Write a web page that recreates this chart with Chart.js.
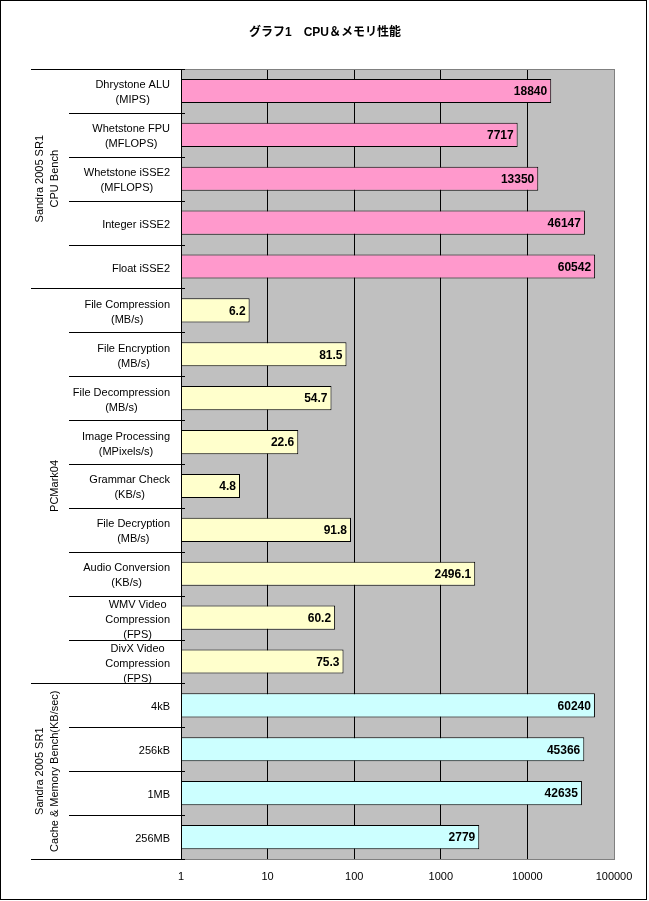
<!DOCTYPE html>
<html>
<head>
<meta charset="utf-8">
<script src="https://cdn.jsdelivr.net/npm/chart.js@4/dist/chart.umd.min.js"></script>
<style>
html,body{margin:0;padding:0;background:#fff;}
canvas{display:block;}
</style>
</head>
<body>
<canvas id="c" width="649" height="901"></canvas>
<script>
const chartTitle = "グラフ1　CPU＆メモリ性能";
const categories = [
  ["Dhrystone ALU","(MIPS)"],
  ["Whetstone FPU","(MFLOPS)"],
  ["Whetstone iSSE2","(MFLOPS)"],
  ["Integer iSSE2"],
  ["Float iSSE2"],
  ["File Compression","(MB/s)"],
  ["File Encryption","(MB/s)"],
  ["File Decompression","(MB/s)"],
  ["Image Processing","(MPixels/s)"],
  ["Grammar Check","(KB/s)"],
  ["File Decryption","(MB/s)"],
  ["Audio Conversion","(KB/s)"],
  ["WMV Video","Compression","(FPS)"],
  ["DivX Video","Compression","(FPS)"],
  ["4kB"],
  ["256kB"],
  ["1MB"],
  ["256MB"]
];
const cpuBench = [18840, 7717, 13350, 46147, 60542];
const pcmark04 = [6.2, 81.5, 54.7, 22.6, 4.8, 91.8, 2496.1, 60.2, 75.3];
const memBench = [60240, 45366, 42635, 2779];
const groupNames = [
  ["Sandra 2005 SR1","CPU Bench"],
  ["PCMark04"],
  ["Sandra 2005 SR1","Cache & Memory Bench(KB/sec)"]
];
const groupSizes = [cpuBench.length, pcmark04.length, memBench.length];
const xTicks = [1, 10, 100, 1000, 10000, 100000];

const groupFill = ["#FF99CC", "#FFFFCC", "#CCFFFF"];
const values = cpuBench.concat(pcmark04, memBench);
const colors = [];
groupSizes.forEach((n, g) => { for (let i = 0; i < n; i++) colors.push(groupFill[g]); });

const FONT = '"Liberation Sans", "Noto Sans CJK JP", sans-serif';

const decor = {
  id: 'decor',
  beforeDraw(chart) {
    const ctx = chart.ctx, a = chart.chartArea;
    ctx.save();
    ctx.fillStyle = '#fff';
    ctx.fillRect(0, 0, chart.width, chart.height);
    ctx.fillStyle = '#C0C0C0';
    ctx.fillRect(a.left, a.top, a.right - a.left, a.bottom - a.top);
    ctx.restore();
  },
  afterDraw(chart) {
    const ctx = chart.ctx, a = chart.chartArea;
    const ys = chart.scales.y;
    ctx.save();
    // plot border
    const L = Math.round(a.left), T = Math.round(a.top), R = Math.round(a.right), B = Math.round(a.bottom);
    ctx.lineWidth = 1;
    ctx.strokeStyle = '#808080';
    ctx.strokeRect(L + 0.5, T + 0.5, R - L, B - T);
    ctx.strokeStyle = '#000';
    ctx.beginPath(); ctx.moveTo(L + 0.5, T); ctx.lineTo(L + 0.5, B + 1); ctx.stroke();

    // category separators
    const n = categories.length;
    const groupStarts = new Set([0]);
    let acc = 0;
    groupSizes.forEach(s => { acc += s; groupStarts.add(acc); });
    for (let i = 0; i <= n; i++) {
      let y;
      if (i === 0) y = a.top;
      else if (i === n) y = a.bottom;
      else y = (ys.getPixelForValue(i - 1) + ys.getPixelForValue(i)) / 2;
      y = Math.round(y) + 0.5;
      const x0 = groupStarts.has(i) ? 31 : 69;
      ctx.beginPath(); ctx.moveTo(x0, y); ctx.lineTo(L + 4, y); ctx.stroke();
    }

    // category labels
    ctx.fillStyle = '#000';
    ctx.font = '11px ' + FONT;
    ctx.textAlign = 'center';
    ctx.textBaseline = 'middle';
    categories.forEach((lines, i) => {
      const yc = ys.getPixelForValue(i);
      let w = 0;
      lines.forEach(t => { w = Math.max(w, ctx.measureText(t).width); });
      const xc = 170 - w / 2;
      const lh = 15;
      lines.forEach((t, k) => {
        ctx.fillText(t, xc, yc + 2 + (k - (lines.length - 1) / 2) * lh);
      });
    });

    // group labels (rotated)
    let start = 0;
    groupNames.forEach((lines, g) => {
      const end = start + groupSizes[g] - 1;
      const yc = (ys.getPixelForValue(start) + ys.getPixelForValue(end)) / 2;
      ctx.save();
      ctx.translate(55, yc);
      ctx.rotate(-Math.PI / 2);
      lines.forEach((t, k) => {
        ctx.fillText(t, 0, -(lines.length - 1 - k) * 15);
      });
      ctx.restore();
      start = end + 1;
    });

    // value labels
    const meta = chart.getDatasetMeta(0);
    ctx.font = 'bold 12px ' + FONT;
    ctx.textAlign = 'right';
    meta.data.forEach((el, i) => {
      ctx.fillText(String(values[i]), el.x - 4, el.y + 1);
    });

    // title
    ctx.font = 'bold 12px ' + FONT;
    ctx.textAlign = 'center';
    ctx.fillText(chartTitle, 325, 33);

    // outer frame
    ctx.strokeStyle = '#000';
    ctx.lineWidth = 1;
    ctx.strokeRect(0.5, 0.5, 646, 899);
    ctx.restore();
  }
};

new Chart(document.getElementById('c'), {
  type: 'bar',
  data: {
    labels: categories,
    datasets: [{
      data: values,
      backgroundColor: colors,
      borderColor: '#000',
      borderWidth: 1,
      borderSkipped: false,
      barPercentage: 0.55,
      categoryPercentage: 1
    }]
  },
  options: {
    indexAxis: 'y',
    responsive: false,
    animation: false,
    devicePixelRatio: 1,
    layout: { padding: { left: 181, right: 35, top: 69, bottom: 12 } },
    plugins: { legend: { display: false }, tooltip: { enabled: false }, title: { display: false } },
    scales: {
      y: { type: 'category', display: false },
      x: {
        type: 'logarithmic',
        min: xTicks[0],
        max: xTicks[xTicks.length - 1],
        afterBuildTicks: (s) => { s.ticks = xTicks.map(v => ({ value: v })); },
        afterFit: (s) => { s.height = 30; },
        border: { display: false },
        grid: {
          drawTicks: false,
          lineWidth: 1,
          color: (c) => (c.tick && (c.tick.value === xTicks[0] || c.tick.value === xTicks[xTicks.length - 1])) ? 'rgba(0,0,0,0)' : '#000'
        },
        ticks: {
          color: '#000',
          padding: 11,
          maxRotation: 0,
          autoSkip: false,
          font: { family: FONT, size: 11 },
          callback: (v) => String(v)
        }
      }
    }
  },
  plugins: [decor]
});
</script>
</body>
</html>
